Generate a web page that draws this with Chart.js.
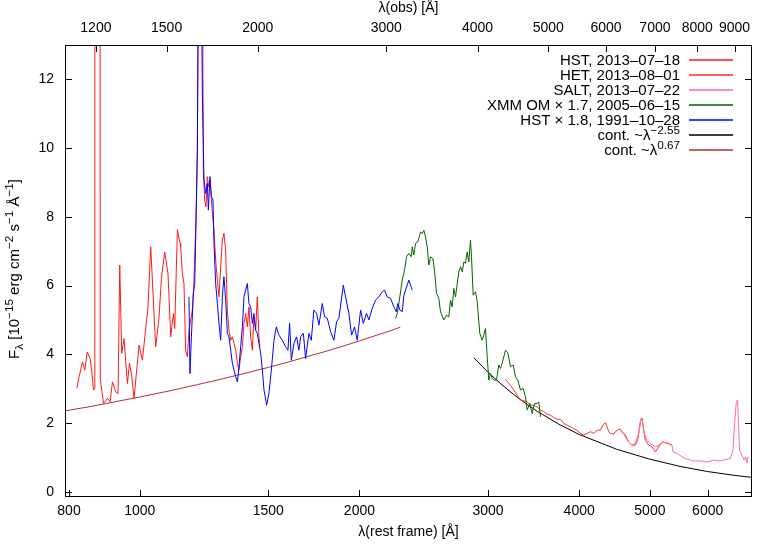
<!DOCTYPE html>
<html><head><meta charset="utf-8">
<script src="https://cdn.jsdelivr.net/npm/chart.js@4/dist/chart.umd.min.js"></script>
<style>html,body{margin:0;padding:0;background:#fff}#wrap{width:778px;height:545px}</style>
</head><body><div id="wrap"><canvas id="c" width="778" height="545"></canvas></div>
<script>
// ---------- data (rest-frame wavelength in Å, flux in 1e-15 erg cm^-2 s^-1 Å^-1) ----------
const restTicks = [800, 1000, 1500, 2000, 3000, 4000, 5000, 6000];
const obsTicks = [1200, 1500, 2000, 3000, 4000, 5000, 6000, 7000, 8000, 9000];
const yTicks = [0, 2, 4, 6, 8, 10, 12];
const onePlusZ = 1.378;

const hstWave = [820, 825, 834.8, 840.9, 847.3, 855, 860.6, 864.4, 866.5, 868, 881, 883, 891.9, 903.2, 910.7, 917.6, 927.1, 933.9, 938.9, 944.8, 951.7, 961.9, 968.1, 974.2, 982.3, 997.8, 1008.5, 1026.5, 1035.3, 1051.7, 1062.5, 1070.8, 1082.0, 1093.3, 1102.7, 1112.2, 1116.7, 1126.2, 1135.5, 1138.0, 1144.0, 1149.8, 1156.0, 1162.2, 1168.1, 1180.6, 1186.3, 1196.1, 1199.4, 1204.4, 1212, 1219.7, 1222.3, 1227.4, 1232.5, 1237.8, 1242.9, 1248.1, 1253.6, 1257.6, 1264.0, 1270.7, 1277.5, 1284.1, 1290.9, 1297.8, 1304.3, 1311.4, 1318.4, 1325.3, 1332.3, 1339.5, 1346.3, 1353.5, 1360.9, 1367.6, 1375.0, 1382.3, 1389.4, 1396.9, 1404.3, 1411.3, 1419.0, 1426.6, 1433.8, 1441.6, 1449.1, 1456.5, 1461.0];
const hstFlux = [3.01, 3.30, 3.78, 3.54, 4.07, 3.88, 3.40, 2.96, 3.0, 45, 45, 3.3, 2.57, 2.72, 2.62, 3.20, 2.91, 2.86, 6.60, 4.03, 4.46, 3.15, 3.74, 3.44, 2.72, 4.27, 3.83, 5.38, 7.13, 4.22, 5.05, 6.21, 6.98, 6.35, 4.51, 5.19, 4.75, 7.63, 7.23, 7.13, 6.35, 6.06, 4.12, 3.93, 4.70, 5.29, 6.06, 8.49, 9.94, 16, 18, 14, 9.36, 8.49, 8.29, 9.17, 8.87, 9.07, 8.49, 8.10, 7.62, 6.74, 6.16, 5.67, 6.55, 7.32, 7.52, 7.03, 5.29, 4.70, 4.41, 4.51, 4.32, 4.12, 3.74, 3.54, 3.93, 4.22, 4.90, 5.19, 4.80, 5.38, 4.51, 4.12, 5.09, 4.70, 5.67, 4.51, 4.22];

const hetWave = [3170.3, 3193.4, 3220.8, 3254.7, 3289.5, 3323.9, 3358.5, 3394.8, 3430.3, 3466.3, 3503.4, 3540, 3577.2, 3615.6, 3653.5, 3691.3, 3731.3, 3770.6, 3809.9, 3850.8, 3891.3, 3931.5, 3974.1, 4015.9, 4057.9, 4101.3, 4144.5, 4188, 4232.7, 4277.2, 4313.7, 4345.3, 4368.8, 4391, 4414.3, 4461, 4484.4, 4532, 4555.6, 4580.2, 4628, 4677, 4726.3, 4776.2, 4811, 4852.1, 4878.1, 4903, 4929.1, 4981, 5034, 5087, 5140, 5195.1, 5249.9, 5305, 5361.5];
const hetFlux = [3.27, 3.20, 3.10, 2.96, 2.81, 2.67, 2.65, 2.62, 2.52, 2.52, 2.47, 2.38, 2.33, 2.26, 2.23, 2.16, 2.11, 2.11, 1.99, 1.94, 1.89, 1.84, 1.79, 1.70, 1.65, 1.70, 1.75, 1.70, 1.79, 1.80, 1.95, 2.01, 1.89, 1.75, 1.70, 1.68, 1.75, 1.82, 1.82, 1.75, 1.65, 1.45, 1.36, 1.36, 1.50, 2.04, 2.14, 1.80, 1.50, 1.36, 1.31, 1.16, 1.31, 1.45, 1.43, 1.41, 1.36];

const saltWave = [4555.6, 4580, 4628, 4677, 4726, 4776, 4826, 4862.7, 4878, 4903, 4913, 4955, 5007, 5087, 5140, 5195, 5277.7, 5361.5, 5378.5, 5446.7, 5533.1, 5621, 5739, 5862, 5987, 6112.7, 6243.7, 6342.8, 6443.7, 6498, 6531, 6566, 6593, 6614, 6635, 6685, 6734, 6762, 6791, 6812];
const saltFlux = [1.75, 1.75, 1.60, 1.45, 1.36, 1.41, 1.70, 2.14, 2.14, 1.80, 1.70, 1.50, 1.40, 1.31, 1.35, 1.45, 1.41, 1.36, 1.16, 1.12, 1.02, 0.95, 0.90, 0.90, 0.87, 0.92, 0.90, 0.94, 0.97, 1.21, 1.99, 2.62, 2.67, 1.99, 1.21, 1.07, 0.92, 1.02, 0.84, 1.02];

const xmmWave = [2241.3, 2253.4, 2271.8, 2289.0, 2305.8, 2320.4, 2337.6, 2355.1, 2362.4, 2374.3, 2387.1, 2404.4, 2425.1, 2438.1, 2450.6, 2463.6, 2476.8, 2489.3, 2502.7, 2520.9, 2534.5, 2550.5, 2569.1, 2582.8, 2609.9, 2632.1, 2651.5, 2665.6, 2680.0, 2693.7, 2708.0, 2736.6, 2751.0, 2765.9, 2780.1, 2794.8, 2809.8, 2824.2, 2839.0, 2848.0, 2863.4, 2884.2, 2899.8, 2923.6, 2945.7, 2960.6, 2976.6, 2992.6, 3007.9, 3023.9, 3040.2, 3055.6, 3081.5, 3103.9, 3120.7, 3137.4, 3170.3, 3193.4, 3220.8, 3248.2, 3271.9, 3295.7, 3323.9, 3352.1, 3376.7, 3394.8, 3422.7, 3448.6, 3473.7, 3503.4, 3521.2, 3532.3, 3540.0];
const xmmFlux = [5.04, 5.19, 5.67, 6.16, 6.45, 6.84, 6.94, 6.84, 7.13, 6.89, 7.23, 7.27, 7.56, 7.52, 7.61, 7.42, 7.13, 6.60, 6.84, 6.79, 6.45, 5.77, 5.63, 5.24, 5.0, 5.14, 5.09, 5.58, 5.38, 5.92, 5.67, 6.40, 6.55, 6.40, 6.69, 6.65, 6.98, 6.69, 7.32, 6.84, 5.72, 5.82, 5.53, 4.61, 4.41, 4.56, 4.75, 3.93, 3.25, 3.44, 3.30, 3.25, 3.25, 3.69, 3.59, 3.74, 4.12, 4.05, 3.64, 3.69, 3.35, 3.25, 2.96, 3.01, 2.76, 2.38, 2.57, 2.28, 2.57, 2.57, 2.62, 2.38, 2.18];

const hst1991Wave = [1168.1, 1171.8, 1177.0, 1184.4, 1189.3, 1192.3, 1199.4, 1204, 1210, 1216, 1218.4, 1224.7, 1231.3, 1237.8, 1241.7, 1248.1, 1253.6, 1260.0, 1264.0, 1270.7, 1277.5, 1284.1, 1290.9, 1297.8, 1304.3, 1311.4, 1318.4, 1325.3, 1332.3, 1339.5, 1346.3, 1353.5, 1360.9, 1367.6, 1375.0, 1382.3, 1389.4, 1396.9, 1404.3, 1411.3, 1419.0, 1426.6, 1433.8, 1441.6, 1449.1, 1456.5, 1464.5, 1472.4, 1480.0, 1487.7, 1492.4, 1503.1, 1514.7, 1527.3, 1538.7, 1551.4, 1568.0, 1584.5, 1596.1, 1604.6, 1613.2, 1626.6, 1640.4, 1652.3, 1661.2, 1675.5, 1687.6, 1705.2, 1718.2, 1732.3, 1747.1, 1759.9, 1778.8, 1791.8, 1807.1, 1826.1, 1845.3, 1860.9, 1874.5, 1900.6, 1914.5, 1934.5, 1951.0, 1969.5, 1986.1, 2007.2, 2024.4, 2045.4, 2060.5, 2082.5, 2104.4, 2126.5, 2149.2, 2164.9, 2183.5, 2206.3, 2229.4, 2246.3, 2257.7, 2271.8, 2289.0, 2300.7, 2313.1, 2337.6, 2349.9, 2362.4];
const hst1991Flux = [5.67, 3.44, 4.51, 5.77, 6.06, 7.03, 9.94, 16, 18, 14, 11.6, 9.07, 8.68, 8.97, 8.20, 9.17, 8.59, 8.49, 7.23, 6.06, 5.48, 4.90, 4.41, 5.67, 6.26, 5.58, 4.61, 4.51, 4.12, 3.74, 3.54, 3.35, 3.20, 3.64, 4.22, 4.80, 5.67, 5.87, 6.06, 5.48, 5.38, 4.90, 5.19, 4.70, 4.61, 4.32, 4.03, 3.54, 2.96, 2.70, 2.52, 2.86, 3.54, 4.41, 4.80, 4.56, 4.41, 4.22, 4.12, 4.90, 3.83, 4.32, 4.51, 4.12, 4.51, 4.61, 3.88, 4.61, 4.41, 5.29, 5.19, 4.85, 5.48, 5.09, 5.05, 4.66, 4.41, 4.95, 5.05, 6.01, 5.67, 5.19, 4.56, 4.80, 4.41, 5.29, 4.90, 5.19, 5.0, 5.34, 5.58, 5.67, 5.82, 5.87, 5.67, 5.63, 5.38, 5.24, 5.48, 5.29, 5.24, 5.72, 5.87, 6.16, 6.01, 5.87];

const contSteepWave = [2870, 3000, 3125, 3250, 3375, 3500, 3750, 4000, 4500, 5000, 5500, 6000, 6500, 6900];
const contSteepFlux = [3.90, 3.48, 3.14, 2.84, 2.58, 2.35, 1.97, 1.67, 1.24, 0.95, 0.74, 0.59, 0.485, 0.42];
const contRiseWave = [792, 850, 900, 1000, 1100, 1200, 1300, 1400, 1500, 1600, 1700, 1800, 1900, 2000, 2100, 2200, 2275];
const contRiseFlux = [2.36, 2.47, 2.57, 2.76, 2.94, 3.12, 3.29, 3.46, 3.62, 3.78, 3.94, 4.09, 4.24, 4.39, 4.54, 4.68, 4.79];

// ---------- chart ----------
const FAMILY = "'Liberation Sans', Arial, sans-serif";
const FS = 14;      // axis text
const FSK = 15;     // key and y title
Chart.defaults.font.family = FAMILY;
Chart.defaults.font.size = FS;
Chart.defaults.color = '#000';

const pts = (w, f) => w.map((x, i) => ({x: x, y: f[i]}));
const series = [
  {label: 'HST, 2013–07–18', w: hstWave, f: hstFlux, color: '#ff1a1a', order: 5},
  {label: 'HET, 2013–08–01', w: hetWave, f: hetFlux, color: '#ff2a2a', order: 4},
  {label: 'SALT, 2013–07–22', w: saltWave, f: saltFlux, color: '#ff6e96', order: 3},
  {label: 'XMM OM × 1.7, 2005–06–15', w: xmmWave, f: xmmFlux, color: '#006400', order: 2},
  {label: 'HST × 1.8, 1991–10–28', w: hst1991Wave, f: hst1991Flux, color: '#0000ff', order: 1},
  {label: 'cont. ~λ−2.55', w: contSteepWave, f: contSteepFlux, color: '#000000', order: 7},
  {label: 'cont. ~λ0.67', w: contRiseWave, f: contRiseFlux, color: '#b03030', order: 6}
];
const legendParts = [
  [{t: 'HST, 2013–07–18'}],
  [{t: 'HET, 2013–08–01'}],
  [{t: 'SALT, 2013–07–22'}],
  [{t: 'XMM OM × 1.7, 2005–06–15'}],
  [{t: 'HST × 1.8, 1991–10–28'}],
  [{t: 'cont. ~λ'}, {t: '−2.55', s: 'sup'}],
  [{t: 'cont. ~λ'}, {t: '0.67', s: 'sup'}]
];
const yTitleParts = [{t: 'F'}, {t: 'λ', s: 'sub'}, {t: ' [10'}, {t: '−15', s: 'sup'}, {t: ' erg cm'}, {t: '−2', s: 'sup'}, {t: ' s'}, {t: '−1', s: 'sup'}, {t: ' Å'}, {t: '−1', s: 'sup'}, {t: ']'}];

function partFont(p, size) { return (p.s ? size * 0.78 : size) + 'px ' + FAMILY; }
function richWidth(ctx, parts, size) {
  let w = 0;
  for (const p of parts) { ctx.font = partFont(p, size); w += ctx.measureText(p.t).width; }
  return w;
}
function drawRich(ctx, parts, x, y, size) {
  for (const p of parts) {
    ctx.font = partFont(p, size);
    const dy = p.s === 'sup' ? -size * 0.42 : (p.s === 'sub' ? size * 0.28 : 0);
    ctx.fillText(p.t, x, y + dy);
    x += ctx.measureText(p.t).width;
  }
}

const framePlugin = {
  id: 'frame',
  afterDraw(chart) {
    const {ctx, chartArea: a, scales} = chart;
    ctx.save();
    ctx.strokeStyle = '#000';
    ctx.lineWidth = 1;
    ctx.strokeRect(Math.round(a.left) + 0.5, Math.round(a.top) + 0.5, Math.round(a.right - a.left) - 1, Math.round(a.bottom - a.top) - 1);
    const L = 7;
    ctx.beginPath();
    restTicks.forEach(v => { const x = Math.round(scales.x.getPixelForValue(v)) + 0.5; ctx.moveTo(x, a.bottom); ctx.lineTo(x, a.bottom - L); });
    obsTicks.forEach(v => { const x = Math.round(scales.x2.getPixelForValue(v)) + 0.5; ctx.moveTo(x, a.top); ctx.lineTo(x, a.top + L); });
    yTicks.forEach(v => { const y = Math.round(scales.y.getPixelForValue(v)) + 0.5; ctx.moveTo(a.left, y); ctx.lineTo(a.left + L, y); ctx.moveTo(a.right, y); ctx.lineTo(a.right - L, y); });
    ctx.stroke();

    // legend (gnuplot style key)
    ctx.textBaseline = 'alphabetic';
    ctx.textAlign = 'left';
    const textRight = 680, lx0 = 689, lx1 = 733;
    chart.data.datasets.forEach((ds, i) => {
      const cy = 60 + i * 15;
      const w = richWidth(ctx, legendParts[i], FSK);
      ctx.fillStyle = '#000';
      drawRich(ctx, legendParts[i], textRight - w, cy + 5, FSK);
      ctx.strokeStyle = ds.borderColor;
      ctx.lineWidth = 1.3;
      ctx.beginPath();
      ctx.moveTo(lx0, cy); ctx.lineTo(lx1, cy);
      ctx.stroke();
    });

    // y-axis title
    ctx.save();
    ctx.fillStyle = '#000';
    ctx.translate(19, (a.top + a.bottom) / 2 - 2);
    ctx.rotate(-Math.PI / 2);
    const tw = richWidth(ctx, yTitleParts, FSK);
    drawRich(ctx, yTitleParts, -tw / 2, 0, FSK);
    ctx.restore();
    ctx.restore();
  }
};

const xMin = 790, xMax = 6900;
new Chart(document.getElementById('c'), {
  type: 'line',
  data: {
    datasets: series.map(s => ({
      label: s.label,
      data: pts(s.w, s.f),
      borderColor: s.color,
      backgroundColor: s.color,
      borderWidth: 1,
      pointRadius: 0,
      tension: 0,
      fill: false,
      order: s.order,
      xAxisID: 'x',
      yAxisID: 'y'
    }))
  },
  options: {
    responsive: false,
    animation: false,
    devicePixelRatio: 1,
    parsing: true,
    layout: {padding: {left: 0, right: 26, top: 0, bottom: 0}},
    plugins: {legend: {display: false}, tooltip: {enabled: false}},
    scales: {
      x: {
        type: 'logarithmic', position: 'bottom', min: xMin, max: xMax,
        afterBuildTicks: s => { s.ticks = restTicks.map(v => ({value: v})); },
        afterFit: s => { s.height = 48; },
        ticks: {callback: v => String(v), autoSkip: false, maxRotation: 0, padding: 6, color: '#000'},
        grid: {display: false, drawTicks: false},
        border: {display: false},
        title: {display: true, text: 'λ(rest frame) [Å]', padding: {top: 0, bottom: 4}, color: '#000'}
      },
      x2: {
        type: 'logarithmic', position: 'top', min: xMin * onePlusZ, max: xMax * onePlusZ,
        afterBuildTicks: s => { s.ticks = obsTicks.map(v => ({value: v})); },
        afterFit: s => { s.height = 45; },
        ticks: {callback: v => String(v), autoSkip: false, maxRotation: 0, padding: 8, color: '#000'},
        grid: {display: false, drawTicks: false},
        border: {display: false},
        title: {display: true, text: 'λ(obs) [Å]', padding: {top: 0, bottom: 0}, color: '#000'}
      },
      y: {
        type: 'linear', position: 'left', min: -0.15, max: 13,
        afterBuildTicks: s => { s.ticks = yTicks.map(v => ({value: v})); },
        afterFit: s => { s.width = 65; },
        ticks: {padding: 11, color: '#000'},
        grid: {display: false, drawTicks: false},
        border: {display: false}
      }
    }
  },
  plugins: [framePlugin]
});
</script>
</body></html>
